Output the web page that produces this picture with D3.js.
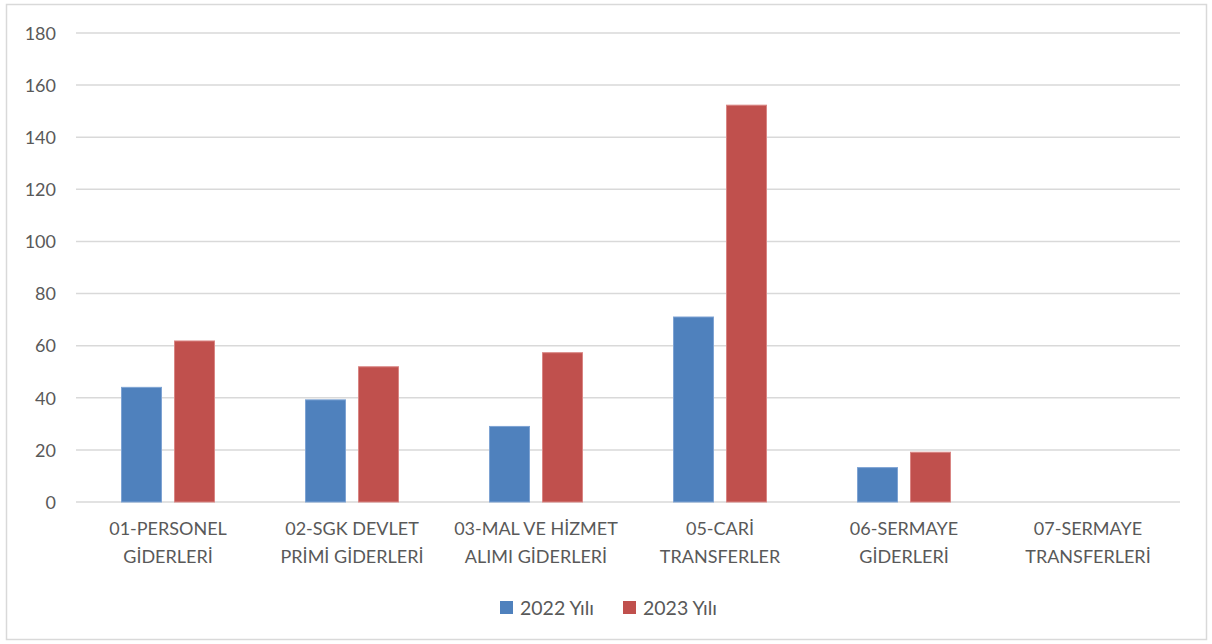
<!DOCTYPE html>
<html><head><meta charset="utf-8">
<script src="https://cdn.jsdelivr.net/npm/d3@7"></script>
<style>
body{margin:0;background:#fff;}
svg{display:block;font-family:Lato,"Open Sans",sans-serif;}
</style></head>
<body>
<svg id="chart" width="1212" height="644"></svg>
<script>
const categories = [
  ["01-PERSONEL","GİDERLERİ"],
  ["02-SGK DEVLET","PRİMİ GİDERLERİ"],
  ["03-MAL VE HİZMET","ALIMI GİDERLERİ"],
  ["05-CARİ","TRANSFERLER"],
  ["06-SERMAYE","GİDERLERİ"],
  ["07-SERMAYE","TRANSFERLERİ"]
];
const seriesNames = ["2022 Yılı","2023 Yılı"];
const values2022 = [44, 39.2, 29, 71, 13.2, 0];
const values2023 = [61.8, 51.9, 57.3, 152.3, 19.1, 0];
const yTicks = [0,20,40,60,80,100,120,140,160,180];
const colors = ["#4f81bd","#c0504d"];
const strokes = ["#7ea3d3","#d98583"];

(function(){
const svg = d3.select("#chart");
svg.append("rect").attr("x",6.5).attr("y",4.5).attr("width",1200).attr("height",635)
  .attr("fill","#fff").attr("stroke","#d9d9d9").attr("stroke-width",1.5);

const pLeft=76, pRight=1180, pTop=33, pBottom=502;
const x = d3.scaleBand().domain(d3.range(categories.length)).range([pLeft,pRight]);
const y = d3.scaleLinear().domain([0,180]).range([pBottom,pTop]);
const barW = 41, gap = 12;
const xs = d3.scaleOrdinal().domain([0,1]).range([-(barW+gap/2), gap/2]);

svg.append("g").selectAll("line").data(yTicks).join("line")
  .attr("x1",pLeft).attr("x2",pRight)
  .attr("y1",d=>y(d)).attr("y2",d=>y(d))
  .attr("stroke","#d9d9d9").attr("stroke-width",1.5);

const yAxis = d3.axisLeft(y).tickValues(yTicks).tickSize(0).tickPadding(0);
const yg = svg.append("g").attr("transform",`translate(${pLeft-20},0)`).call(yAxis);
yg.select(".domain").remove();
yg.selectAll("text").attr("font-size",18).attr("fill","#595959")
  .attr("font-family","Lato,'Open Sans',sans-serif").attr("dy","0.35em");

const seriesData = [values2022, values2023];
seriesData.forEach((vals,si)=>{
  svg.append("g").selectAll("rect").data(vals).join("rect")
    .attr("x",(d,i)=>x(i)+x.bandwidth()/2+xs(si)+0.5)
    .attr("y",d=>y(d))
    .attr("width",barW-1)
    .attr("height",d=>y(0)-y(d))
    .attr("fill",colors[si])
    .attr("stroke",d=>d>0?strokes[si]:"none").attr("stroke-width",1);
});

const xg = svg.append("g");
categories.forEach((lines,i)=>{
  const t = xg.append("text").attr("text-anchor","middle")
    .attr("font-size",18).attr("fill","#595959");
  lines.forEach((ln,j)=>{
    t.append("tspan").attr("x",x(i)+x.bandwidth()/2).attr("y",535+j*28).text(ln);
  });
});

const legendX = [500,623];
seriesNames.forEach((n,i)=>{
  const g = svg.append("g").attr("transform",`translate(${legendX[i]},0)`);
  g.append("rect").attr("x",0).attr("y",601).attr("width",13).attr("height",13).attr("fill",colors[i]);
  g.append("text").attr("x",20).attr("y",615).attr("font-size",19.5).attr("fill","#595959").text(n);
});
})();
</script>
</body></html>
